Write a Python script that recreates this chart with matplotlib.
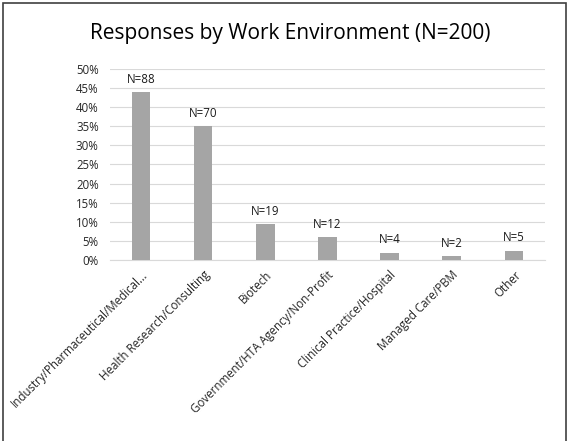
import matplotlib
matplotlib.use('Agg')
import matplotlib.pyplot as plt
from matplotlib.patches import Rectangle
from matplotlib.ticker import PercentFormatter

categories = ['Industry/Pharmaceutical/Medical...', 'Health Research/Consulting', 'Biotech',
              'Government/HTA Agency/Non-Profit', 'Clinical Practice/Hospital',
              'Managed Care/PBM', 'Other']
counts = [88, 70, 19, 12, 4, 2, 5]
total = 200
shares = [c / total for c in counts]

plt.rcParams['font.family'] = ['Open Sans', 'DejaVu Sans']

fig = plt.figure(figsize=(5.69, 4.41), dpi=100)
ax = fig.add_axes([0.193, 0.410, 0.765, 0.434])

x = range(len(categories))
bars = ax.bar(x, shares, width=0.3, color='#a5a5a5', zorder=3)
for b, c in zip(bars, counts):
    ax.text(b.get_x() + b.get_width() / 2, b.get_height() + 0.016, f'N={c}',
            ha='center', va='bottom', fontsize=8.3, color='#1a1a1a')

ax.set_xlim(-0.5, len(categories) - 0.5)
ax.set_ylim(0, 0.5)
ax.set_yticks([i * 0.05 for i in range(11)])
ax.yaxis.set_major_formatter(PercentFormatter(1.0, decimals=0))
ax.set_xticks(list(x))
ax.set_xticklabels(categories, rotation=45, ha='right', rotation_mode='anchor', fontsize=8.3)
ax.tick_params(axis='both', length=0, labelsize=8.3, colors='#262626')
ax.tick_params(axis='x', pad=6)
ax.tick_params(axis='y', pad=8)
ax.grid(axis='y', color='#d9d9d9', linewidth=0.8, zorder=0)
for s in ['top', 'right', 'left']:
    ax.spines[s].set_visible(False)
ax.spines['bottom'].set_color('#d9d9d9')

fig.text(0.51, 0.925, 'Responses by Work Environment (N=200)', ha='center', va='center',
         fontsize=15, color='#000000')

fig.patches.append(Rectangle((0.006, -0.05), 0.988, 1.043, transform=fig.transFigure,
                             fill=False, edgecolor='#404040', linewidth=1.2))

fig.savefig('out.png', dpi=100)
